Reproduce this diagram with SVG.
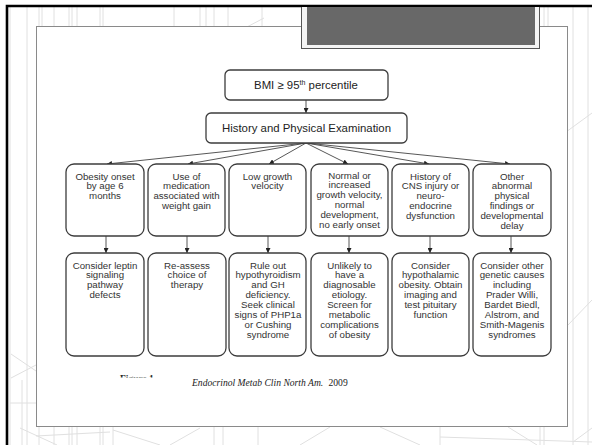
<svg xmlns="http://www.w3.org/2000/svg" width="592" height="445" viewBox="0 0 592 445">
  <defs>
    <marker id="arr" viewBox="0 0 6 6" refX="6" refY="3" markerWidth="5" markerHeight="5" orient="auto" markerUnits="userSpaceOnUse">
      <path d="M0,0 L6,3 L0,6 Z" fill="#222"/>
    </marker>
    <clipPath id="figClip">
      <rect x="100" y="370" width="80" height="7.5"/>
    </clipPath>
    <style>
      .bg { stroke: #e0e0e0; stroke-width: 1; fill: none; }
      .node rect { fill: #ffffff; stroke: #3c3c3c; stroke-width: 1.3; }
      .lbl { font-family: "Liberation Sans", Arial, sans-serif; font-size: 9.7px; fill: #333; text-anchor: middle; }
      .big { font-family: "Liberation Sans", Arial, sans-serif; font-size: 11.4px; fill: #222; text-anchor: middle; }
      .conn line { stroke: #444; stroke-width: 0.9; marker-end: url(#arr); }
      .cap { font-family: "Liberation Serif", "Times New Roman", serif; font-size: 9.6px; fill: #222; }
    </style>
  </defs>

  <!-- slide background -->
  <rect x="0" y="0" width="592" height="445" fill="#ffffff"/>
  <g class="bg">
    <path d="M10 7V445M22 380V445M27 7V445M39 7V445M42 7V30M54 7V445M69 7V445M72 7V445M77 7V445M100 7V445M103 7V445M113 420V445M174 7V30M200 7V30M206 7V30M214 7V445M223 420V445M228 7V30M258 420V445M262 7V30M440 420V445M540 420V445M544 7V445M548 7V30M573 7V445M588 7V445"/>
    <path d="M245 28L264 18M566 132L592 113M568 325L592 300M508 427L537 445M573 442L592 428M440 437L592 442M20 428L57 445M10 403L36 403M11 354L36 371M11 378L36 365M113 430L160 445M170 445L200 428M300 445L330 427M380 427L420 445M36 436L110 432"/>
  </g>

  <!-- slide frame -->
  <path d="M7 445V6H592" fill="none" stroke="#000" stroke-width="2.6"/>

  <!-- content panel -->
  <rect x="36.5" y="26.5" width="531" height="400" fill="#ffffff" stroke="#8a8a8a" stroke-width="1"/>

  <!-- title placeholder block -->
  <rect x="301.5" y="6" width="238" height="42.5" fill="#f4f4f4" stroke="#555" stroke-width="1"/>
  <rect x="307" y="7" width="228" height="38" fill="#686868"/>
  <path d="M7 6H592" stroke="#000" stroke-width="2"/>

  <!-- connectors -->
  <g id="connectors" class="conn">
    <line x1="306" y1="100" x2="306" y2="113"/>
    <line x1="306" y1="143" x2="107" y2="164"/>
    <line x1="306" y1="143" x2="188" y2="164"/>
    <line x1="306" y1="143" x2="269" y2="164"/>
    <line x1="306" y1="143" x2="348" y2="164"/>
    <line x1="306" y1="143" x2="429" y2="164"/>
    <line x1="306" y1="143" x2="510" y2="164"/>
    <line x1="106" y1="236" x2="106" y2="253"/>
    <line x1="187" y1="236" x2="187" y2="253"/>
    <line x1="268" y1="236" x2="268" y2="253"/>
    <line x1="349" y1="236" x2="349" y2="253"/>
    <line x1="430" y1="236" x2="430" y2="253"/>
    <line x1="511" y1="236" x2="511" y2="253"/>
  </g>

  <!-- top nodes -->
  <g id="bmi" class="node">
    <rect x="225" y="70" width="163" height="30" rx="5"/>
    <text class="big" x="306" y="89">BMI ≥ 95<tspan font-size="7" dy="-4.5">th</tspan><tspan dy="4.5"> percentile</tspan></text>
  </g>
  <g id="history" class="node">
    <rect x="206" y="113" width="201" height="30" rx="5"/>
    <text class="big" x="306.5" y="132">History and Physical Examination</text>
  </g>

  <!-- findings -->
  <g id="f1" class="node">
    <rect x="66" y="164" width="78" height="72" rx="8"/>
    <text class="lbl" x="105" y="179.5"><tspan x="105">Obesity onset</tspan><tspan x="105" dy="9.8">by age 6</tspan><tspan x="105" dy="9.8">months</tspan></text>
  </g>
  <g id="f2" class="node">
    <rect x="148" y="164" width="77" height="72" rx="8"/>
    <text class="lbl" x="186.5" y="179.5"><tspan x="186.5">Use of</tspan><tspan x="186.5" dy="9.8">medication</tspan><tspan x="186.5" dy="9.8">associated with</tspan><tspan x="186.5" dy="9.8">weight gain</tspan></text>
  </g>
  <g id="f3" class="node">
    <rect x="229" y="164" width="77" height="72" rx="8"/>
    <text class="lbl" x="267.5" y="179.5"><tspan x="267.5">Low growth</tspan><tspan x="267.5" dy="9.8">velocity</tspan></text>
  </g>
  <g id="f4" class="node">
    <rect x="311" y="164" width="77" height="72" rx="8"/>
    <text class="lbl" x="349.5" y="178.5"><tspan x="349.5">Normal or</tspan><tspan x="349.5" dy="9.9">increased</tspan><tspan x="349.5" dy="9.9">growth velocity,</tspan><tspan x="349.5" dy="9.9">normal</tspan><tspan x="349.5" dy="9.9">development,</tspan><tspan x="349.5" dy="9.9">no early onset</tspan></text>
  </g>
  <g id="f5" class="node">
    <rect x="392" y="164" width="77" height="72" rx="8"/>
    <text class="lbl" x="430.5" y="179.5"><tspan x="430.5">History of</tspan><tspan x="430.5" dy="9.8">CNS injury or</tspan><tspan x="430.5" dy="9.8">neuro-</tspan><tspan x="430.5" dy="9.8">endocrine</tspan><tspan x="430.5" dy="9.8">dysfunction</tspan></text>
  </g>
  <g id="f6" class="node">
    <rect x="473" y="164" width="78" height="72" rx="8"/>
    <text class="lbl" x="512" y="179.5"><tspan x="512">Other</tspan><tspan x="512" dy="9.8">abnormal</tspan><tspan x="512" dy="9.8">physical</tspan><tspan x="512" dy="9.8">findings or</tspan><tspan x="512" dy="9.8">developmental</tspan><tspan x="512" dy="9.8">delay</tspan></text>
  </g>

  <!-- recommended actions -->
  <g id="a1" class="node">
    <rect x="66" y="253" width="78" height="103" rx="8"/>
    <text class="lbl" x="105" y="268.5"><tspan x="105">Consider leptin</tspan><tspan x="105" dy="9.8">signaling</tspan><tspan x="105" dy="9.8">pathway</tspan><tspan x="105" dy="9.8">defects</tspan></text>
  </g>
  <g id="a2" class="node">
    <rect x="148" y="253" width="78" height="103" rx="8"/>
    <text class="lbl" x="187" y="268.5"><tspan x="187">Re-assess</tspan><tspan x="187" dy="9.8">choice of</tspan><tspan x="187" dy="9.8">therapy</tspan></text>
  </g>
  <g id="a3" class="node">
    <rect x="229" y="253" width="77" height="103" rx="8"/>
    <text class="lbl" x="268" y="268.5"><tspan x="268">Rule out</tspan><tspan x="268" dy="9.9">hypothyroidism</tspan><tspan x="268" dy="9.9">and GH</tspan><tspan x="268" dy="9.9">deficiency.</tspan><tspan x="268" dy="9.9">Seek clinical</tspan><tspan x="268" dy="9.9">signs of PHP1a</tspan><tspan x="268" dy="9.9">or Cushing</tspan><tspan x="268" dy="9.9">syndrome</tspan></text>
  </g>
  <g id="a4" class="node">
    <rect x="311" y="253" width="77" height="103" rx="8"/>
    <text class="lbl" x="349.5" y="268.5"><tspan x="349.5">Unlikely to</tspan><tspan x="349.5" dy="9.9">have a</tspan><tspan x="349.5" dy="9.9">diagnosable</tspan><tspan x="349.5" dy="9.9">etiology.</tspan><tspan x="349.5" dy="9.9">Screen for</tspan><tspan x="349.5" dy="9.9">metabolic</tspan><tspan x="349.5" dy="9.9">complications</tspan><tspan x="349.5" dy="9.9">of obesity</tspan></text>
  </g>
  <g id="a5" class="node">
    <rect x="392" y="253" width="77" height="103" rx="8"/>
    <text class="lbl" x="430.5" y="268.5"><tspan x="430.5">Consider</tspan><tspan x="430.5" dy="9.9">hypothalamic</tspan><tspan x="430.5" dy="9.9">obesity. Obtain</tspan><tspan x="430.5" dy="9.9">imaging and</tspan><tspan x="430.5" dy="9.9">test pituitary</tspan><tspan x="430.5" dy="9.9">function</tspan></text>
  </g>
  <g id="a6" class="node">
    <rect x="473" y="253" width="78" height="103" rx="8"/>
    <text class="lbl" x="512" y="268.5"><tspan x="512">Consider other</tspan><tspan x="512" dy="9.9">genetic causes</tspan><tspan x="512" dy="9.9">including</tspan><tspan x="512" dy="9.9">Prader Willi,</tspan><tspan x="512" dy="9.9">Bardet Biedl,</tspan><tspan x="512" dy="9.9">Alstrom, and</tspan><tspan x="512" dy="9.9">Smith-Magenis</tspan><tspan x="512" dy="9.9">syndromes</tspan></text>
  </g>

  <!-- figure caption -->
  <text x="120" y="381.5" clip-path="url(#figClip)" font-family="'Liberation Serif', 'Times New Roman', serif" font-size="9.5" font-weight="bold" fill="#222">Figure 1</text>
  <text class="cap" x="192" y="385.5" font-style="italic">Endocrinol Metab Clin North Am.</text>
  <text class="cap" x="328.5" y="385.5">2009</text>
</svg>
